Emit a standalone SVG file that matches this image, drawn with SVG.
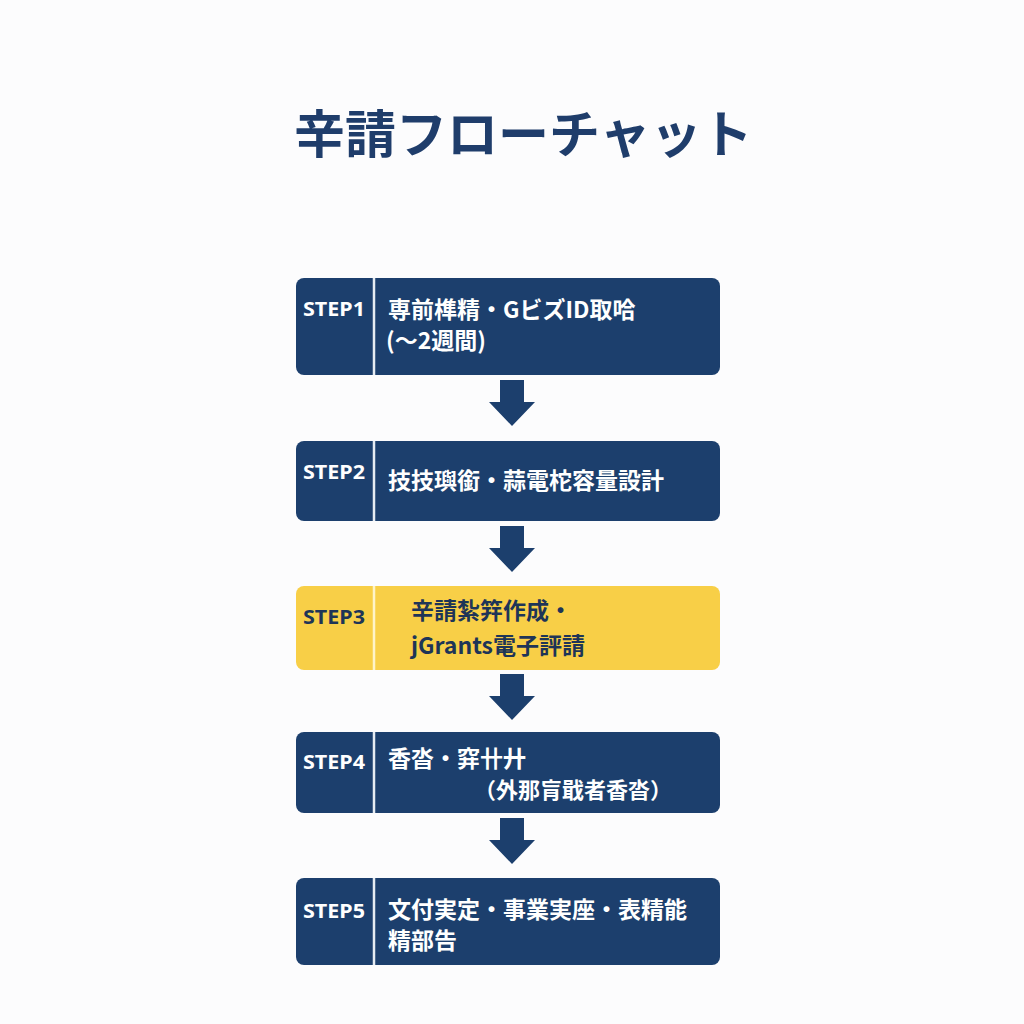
<svg xmlns="http://www.w3.org/2000/svg" xmlns:xlink="http://www.w3.org/1999/xlink" width="1024" height="1024" viewBox="0 0 1024 1024">
<style>
.box{fill:#1c3f6d}
.boxy{fill:#f8cf47}
.div{stroke:#e6ecf3;stroke-width:2.5}
.divy{stroke:#fff4c8;stroke-width:2.5}
.lbl{font-family:"Noto Sans","Open Sans",sans-serif;font-weight:700;font-size:20px;fill:#ffffff}
.lbly{fill:#1e3557}
.txt{font-family:"Noto Sans CJK JP","Noto Sans",sans-serif;font-weight:700;font-size:23px;fill:#ffffff}
.sm{font-size:22px}
.txty{fill:#1e3557}
.title{font-family:"Noto Sans CJK JP",sans-serif;font-weight:700;font-size:51px;fill:#1f3d6b}
.arr{fill:#1c3f6d}
</style>
<defs>
<path id="arrow" d="M-12,0 H12 V22 H23 L0,46 L-23,22 H-12 Z"/>
</defs>
<rect width="1024" height="1024" fill="#fcfcfd"/>
<text class="title" x="294" y="153">辛請フローチャット</text>

<g id="connectors" class="arr">
<use xlink:href="#arrow" x="512" y="380"/>
<use xlink:href="#arrow" x="512" y="526"/>
<use xlink:href="#arrow" x="512" y="674"/>
<use xlink:href="#arrow" x="512" y="818"/>
</g>

<g id="step1">
<rect class="box" x="296" y="278" width="424" height="97" rx="8"/>
<line class="div" x1="374" y1="278" x2="374" y2="375"/>
<text class="lbl" x="303" y="316" textLength="62" lengthAdjust="spacingAndGlyphs">STEP1</text>
<text class="txt" x="388" y="318">専前榫精・GビズID取哈</text>
<text class="txt" x="386" y="349">(～2週間)</text>
</g>

<g id="step2">
<rect class="box" x="296" y="441" width="424" height="80" rx="8"/>
<line class="div" x1="374" y1="441" x2="374" y2="521"/>
<text class="lbl" x="303" y="479" textLength="62" lengthAdjust="spacingAndGlyphs">STEP2</text>
<text class="txt" x="388" y="489">技技璵銜・蒜電柁容量設計</text>
</g>

<g id="step3">
<rect class="boxy" x="296" y="586" width="424" height="84" rx="8"/>
<line class="divy" x1="374" y1="586" x2="374" y2="670"/>
<text class="lbl lbly" x="303" y="624" textLength="62" lengthAdjust="spacingAndGlyphs">STEP3</text>
<text class="txt txty" x="411" y="619">辛請紮筓作成・</text>
<text class="txt txty" x="411" y="654">jGrants電子評請</text>
</g>

<g id="step4">
<rect class="box" x="296" y="732" width="424" height="81" rx="8"/>
<line class="div" x1="374" y1="732" x2="374" y2="813"/>
<text class="lbl" x="303" y="769" textLength="62" lengthAdjust="spacingAndGlyphs">STEP4</text>
<text class="txt" x="388" y="767">香沓・穽卄廾</text>
<text class="txt sm" x="474" y="798">（外那肓戢者香沓）</text>
</g>

<g id="step5">
<rect class="box" x="296" y="878" width="424" height="87" rx="8"/>
<line class="div" x1="374" y1="878" x2="374" y2="965"/>
<text class="lbl" x="303" y="918" textLength="62" lengthAdjust="spacingAndGlyphs">STEP5</text>
<text class="txt" x="388" y="918">文付実定・事業実座・表精能</text>
<text class="txt" x="388" y="949">精部告</text>
</g>
</svg>
